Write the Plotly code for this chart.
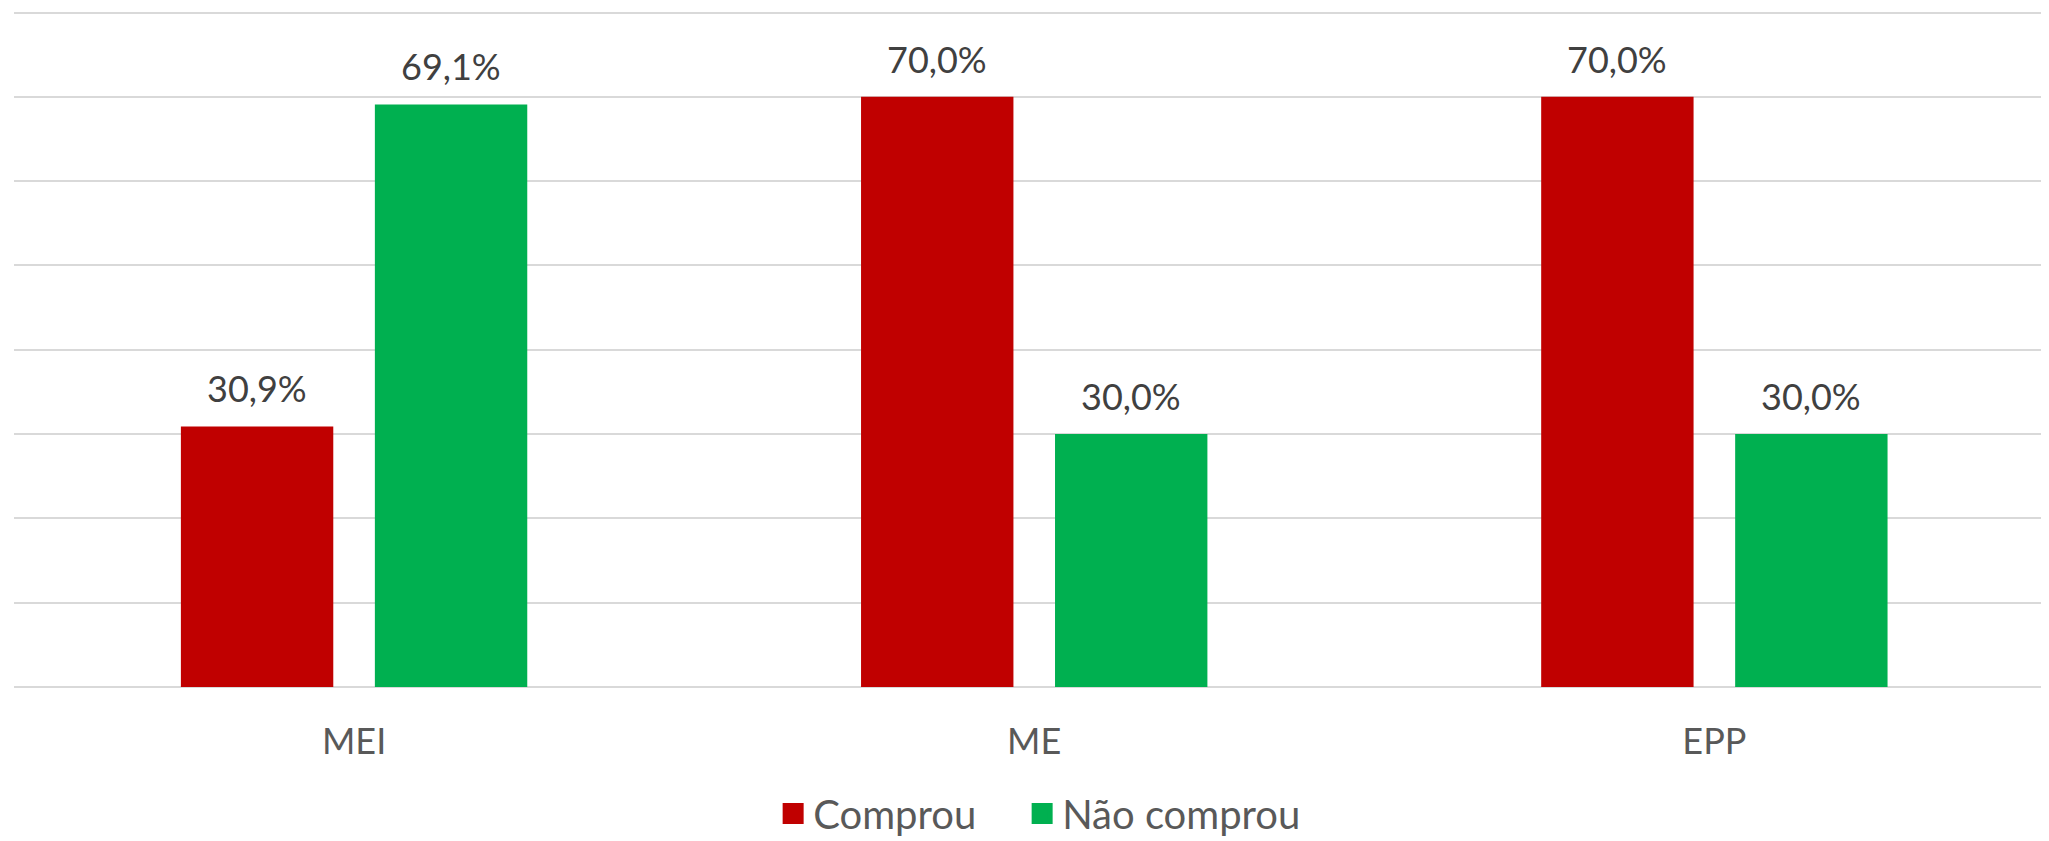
import plotly.graph_objects as go

categories = ["MEI", "ME", "EPP"]
comprou = [30.9, 70.0, 70.0]
nao_comprou = [69.1, 30.0, 30.0]
series_names = ["Comprou", "Não comprou"]
colors = ["#C00000", "#00B050"]

FONT = "Lato"

fig = go.Figure()
for i, (name, vals, col) in enumerate(zip(series_names, [comprou, nao_comprou], colors)):
    fig.add_trace(go.Bar(x=categories, y=vals, name=name, marker=dict(color=col, line=dict(width=0)),
                         showlegend=False, hoverinfo="x+y"))
    # legend-only entry with a bigger square; non-breaking spaces widen the gap between entries
    legend_name = name + "\u00a0" * 4 if i == 0 else name
    fig.add_trace(go.Scatter(x=[None], y=[None], mode="markers", name=legend_name,
                             marker=dict(symbol="square", size=16, color=col, line=dict(color=col, width=6))))

# value labels
for vals, shift in [(comprou, -97), (nao_comprou, 97)]:
    for c, v in zip(categories, vals):
        fig.add_annotation(x=c, y=v, text=f"{v:.1f}%".replace(".", ","), showarrow=False,
                           xshift=shift, yshift=14, yanchor="bottom",
                           font=dict(family=FONT, size=36, color="#404040"))

# the page body adds an 8px margin, so the figure is 8px smaller than the window
fig.update_layout(
    barmode="group",
    bargap=0.4296,
    bargroupgap=0.2144,
    width=2041,
    height=833,
    margin=dict(l=6, r=0, t=2, b=154, autoexpand=False),
    plot_bgcolor="white",
    paper_bgcolor="white",
    font=dict(family=FONT, size=36, color="#595959"),
    legend=dict(orientation="h", x=0.504, xanchor="center", y=-0.187, yanchor="middle",
                font=dict(family=FONT, size=40, color="#595959"), itemsizing="trace"),
)
fig.update_xaxes(range=[-0.5, 2.492], showgrid=False, showline=False, zeroline=False,
                 ticks="", ticklabelstandoff=30, tickfont=dict(family=FONT, size=36, color="#595959"))
fig.update_yaxes(range=[0, 80.3], tickvals=[0, 10, 20, 30, 40, 50, 60, 70, 80], showgrid=True,
                 gridcolor="#D9D9D9", gridwidth=2,
                 zeroline=True, zerolinecolor="#D9D9D9", zerolinewidth=2,
                 showticklabels=False, ticks="")

fig.write_html("out.html")
